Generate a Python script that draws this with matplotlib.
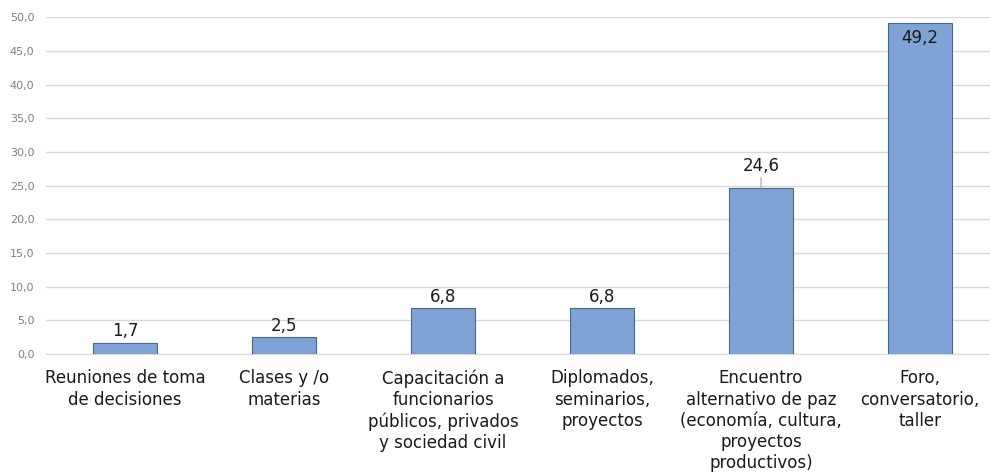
import matplotlib.pyplot as plt
import numpy as np

plt.rcParams['font.family'] = ['DejaVu Sans']

# Data
categorias = [
    "Reuniones de toma\nde decisiones",
    "Clases y /o\nmaterias",
    "Capacitación a\nfuncionarios\npúblicos, privados\ny sociedad civil",
    "Diplomados,\nseminarios,\nproyectos",
    "Encuentro\nalternativo de paz\n(economía, cultura,\nproyectos\nproductivos)",
    "Foro,\nconversatorio,\ntaller",
]
valores = [1.7, 2.5, 6.8, 6.8, 24.6, 49.2]
y_ticks = [0, 5, 10, 15, 20, 25, 30, 35, 40, 45, 50]


def fmt(v):
    return f"{v:.1f}".replace(".", ",")


fig = plt.figure(figsize=(9.9, 4.76), dpi=100)
ax = fig.add_axes([0.046, 0.256, 0.954, 0.708])

x = np.arange(len(categorias))
bars = ax.bar(x, valores, width=0.4, color="#7fa3d4", edgecolor="#4a6588", linewidth=0.8, zorder=3)

ax.set_xlim(-0.5, 5.44)
ax.set_ylim(0, 50)
ax.set_yticks(y_ticks)
ax.set_yticklabels([fmt(t) for t in y_ticks], fontsize=8, color="#7f7f7f")
ax.yaxis.grid(True, color="#d9d9d9", linewidth=1, zorder=0)
ax.tick_params(axis="y", length=0, pad=8)
ax.tick_params(axis="x", length=0, pad=11)
ax.set_xticks(x)
ax.set_xticklabels(categorias, fontsize=12, color="#1a1a1a", linespacing=1.22, va="top")

for s in ["top", "right", "left"]:
    ax.spines[s].set_visible(False)
ax.spines["bottom"].set_color("#d9d9d9")

# data labels
for i, v in enumerate(valores):
    if v > 45:
        ax.text(i, v - 0.9, fmt(v), ha="center", va="top", fontsize=12, color="#1a1a1a", zorder=4)
    elif v > 20:
        ax.annotate(fmt(v), xy=(i, v), xytext=(i, v + 2.0), ha="center", va="bottom",
                    fontsize=12, color="#1a1a1a",
                    arrowprops=dict(arrowstyle="-", color="#a6a6a6", lw=0.8, shrinkA=0, shrinkB=0))
    else:
        ax.text(i, v + 0.4, fmt(v), ha="center", va="bottom", fontsize=12, color="#1a1a1a")

plt.savefig("out.png", dpi=100)
